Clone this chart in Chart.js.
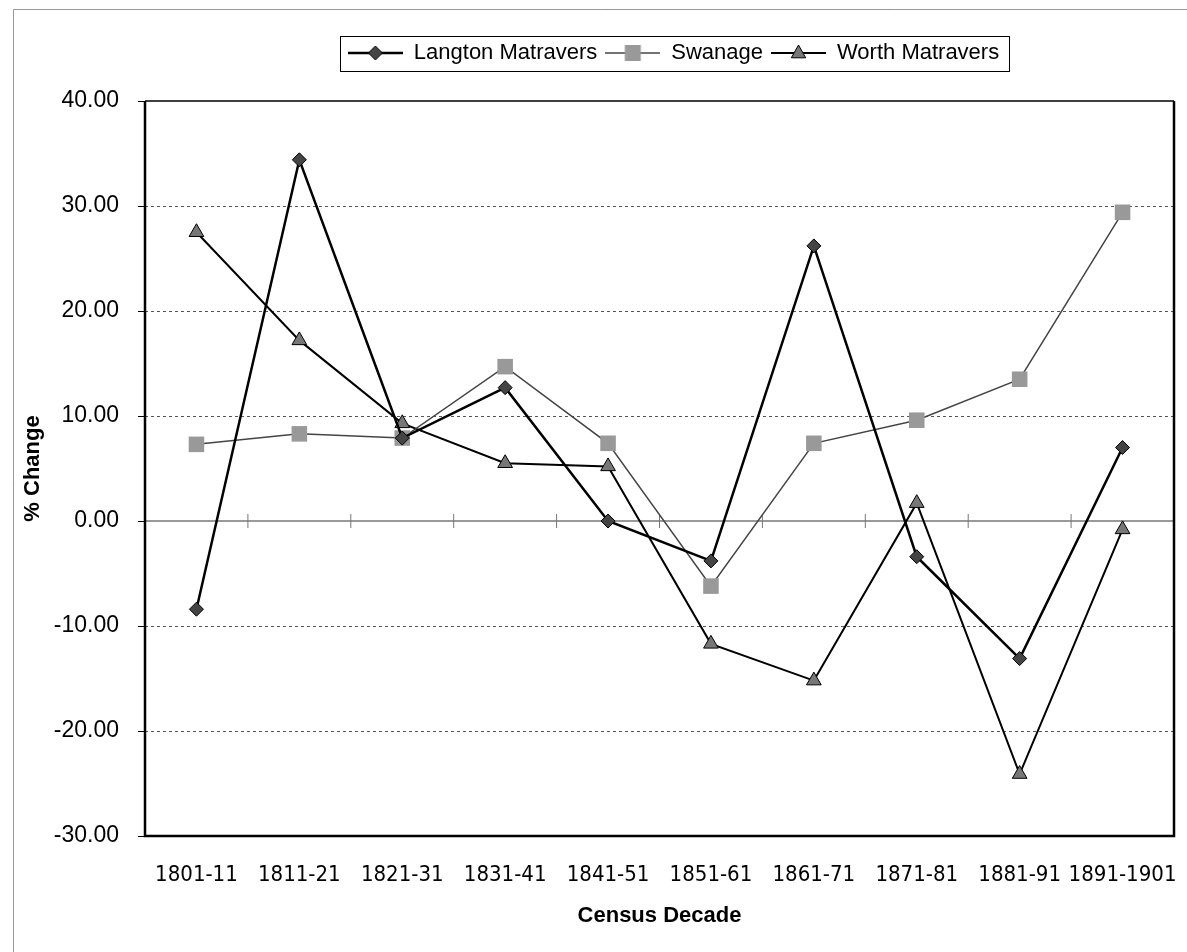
<!DOCTYPE html>
<html>
<head>
<meta charset="utf-8">
<script src="https://cdn.jsdelivr.net/npm/chart.js@4.4.1/dist/chart.umd.min.js"></script>
<style>
  html, body { margin: 0; padding: 0; background: #fff; }
  #wrap { width: 1187px; height: 952px; position: relative; }
</style>
</head>
<body>
<div id="wrap"><canvas id="chart"></canvas></div>
<script>
// census decades and % change per parish
const decades = ["1801-11", "1811-21", "1821-31", "1831-41", "1841-51",
                 "1851-61", "1861-71", "1871-81", "1881-91", "1891-1901"];
const langton = [-8.4, 34.4, 7.9, 12.7, 0.0, -3.8, 26.2, -3.4, -13.1, 7.0];
const swanage = [7.3, 8.3, 7.9, 14.7, 7.4, -6.2, 7.4, 9.6, 13.5, 29.4];
const worth = [27.5, 17.2, 9.3, 5.5, 5.2, -11.7, -15.2, 1.7, -24.1, -0.8];
const yTicks = [-30, -20, -10, 0, 10, 20, 30, 40];

const FONT = "'Liberation Sans', Arial, sans-serif";
const NARROW = "'Liberation Sans Narrow', 'DejaVu Sans Condensed', 'Liberation Sans', sans-serif";

function markerPath(ctx, style, x, y, r) {
    ctx.beginPath();
    if (style === "diamond") {
        ctx.moveTo(x, y - r); ctx.lineTo(x + r, y); ctx.lineTo(x, y + r); ctx.lineTo(x - r, y);
    } else if (style === "square") {
        ctx.rect(x - r, y - r, 2 * r, 2 * r);
    } else {
        ctx.moveTo(x, y - r); ctx.lineTo(x + r * 0.9, y + r * 0.6); ctx.lineTo(x - r * 0.9, y + r * 0.6);
    }
    ctx.closePath();
}

// little "line + marker" pictures for the legend
function swatch(lineColor, lineWidth, style, r, fill, border) {
    const c = document.createElement("canvas");
    c.width = 55; c.height = 20;
    const ctx = c.getContext("2d");
    ctx.strokeStyle = lineColor;
    ctx.lineWidth = lineWidth;
    ctx.beginPath(); ctx.moveTo(0, 10); ctx.lineTo(55, 10); ctx.stroke();
    markerPath(ctx, style, 27.5, 10, r);
    ctx.fillStyle = fill; ctx.fill();
    if (border) { ctx.strokeStyle = border; ctx.lineWidth = 1; ctx.stroke(); }
    return c;
}

const swatches = [
    swatch("#000", 2.5, "diamond", 7, "#444", "#000"),
    swatch("#444", 1.5, "square", 8, "#999", null),
    swatch("#000", 2, "triangle", 8, "#777", "#000"),
];

const legendSpace = {
    id: "legendSpace",
    beforeInit(chart) {
        const fit = chart.legend.fit;
        chart.legend.fit = function () { fit.call(this); this.height = 67; };
    },
    afterLayout(chart) {
        // legend sits a bit right of the plot centre
        chart.legend.left += 14;
        chart.legend.right += 14;
    }
};

const decorations = {
    id: "decorations",
    beforeDatasetsDraw(chart) {
        const { ctx, chartArea: a, scales: { x, y } } = chart;
        ctx.save();
        // zero line with category ticks
        const y0 = y.getPixelForValue(0);
        ctx.strokeStyle = "#777";
        ctx.lineWidth = 1.5;
        ctx.beginPath(); ctx.moveTo(a.left, y0); ctx.lineTo(a.right, y0); ctx.stroke();
        ctx.lineWidth = 1;
        ctx.beginPath();
        for (let i = 1; i < decades.length; i++) {
            const bx = (x.getPixelForValue(i - 1) + x.getPixelForValue(i)) / 2;
            ctx.moveTo(bx, y0 - 7); ctx.lineTo(bx, y0 + 7);
        }
        ctx.stroke();
        // plot frame
        ctx.strokeStyle = "#000";
        ctx.lineWidth = 1.5;
        ctx.beginPath(); ctx.moveTo(a.left, a.top); ctx.lineTo(a.right, a.top); ctx.stroke();
        ctx.lineWidth = 2.5;
        ctx.beginPath();
        ctx.moveTo(a.left, a.top); ctx.lineTo(a.left, a.bottom);
        ctx.lineTo(a.right, a.bottom); ctx.lineTo(a.right, a.top);
        ctx.stroke();
        ctx.restore();
    },
    afterDraw(chart) {
        const { ctx } = chart;
        ctx.save();
        // outer frame (only left and top edges show)
        ctx.strokeStyle = "#999";
        ctx.lineWidth = 1;
        ctx.beginPath();
        ctx.moveTo(13.5, chart.height); ctx.lineTo(13.5, 9.5); ctx.lineTo(chart.width, 9.5);
        ctx.stroke();
        // legend box
        const hb = chart.legend.legendHitBoxes;
        if (hb && hb.length) {
            const left = Math.min(...hb.map(b => b.left)) - 8;
            const right = Math.max(...hb.map(b => b.left + b.width)) + 10;
            const top = Math.min(...hb.map(b => b.top)) - 6;
            const bottom = Math.max(...hb.map(b => b.top + b.height)) + 7;
            ctx.strokeStyle = "#000";
            ctx.strokeRect(Math.round(left) + 0.5, Math.round(top) + 0.5, Math.round(right - left), Math.round(bottom - top));
        }
        ctx.restore();
    }
};

new Chart(document.getElementById("chart"), {
    type: "line",
    data: {
        labels: decades,
        datasets: [
            {
                label: "Langton Matravers",
                data: langton,
                borderColor: "#000",
                borderWidth: 2.5,
                pointStyle: "rectRot",
                pointRadius: 7,
                pointBackgroundColor: "#444",
                pointBorderColor: "#000",
                pointBorderWidth: 1,
            },
            {
                label: "Swanage",
                data: swanage,
                borderColor: "#444",
                borderWidth: 1.5,
                pointStyle: "rect",
                pointRadius: 11,
                pointBackgroundColor: "#999",
                pointBorderColor: "#999",
                pointBorderWidth: 0,
            },
            {
                label: "Worth Matravers",
                data: worth,
                borderColor: "#000",
                borderWidth: 2,
                pointStyle: "triangle",
                pointRadius: 8.5,
                pointBackgroundColor: "#777",
                pointBorderColor: "#000",
                pointBorderWidth: 1,
            },
        ],
    },
    options: {
        responsive: true,
        maintainAspectRatio: false,
        animation: false,
        layout: { padding: { top: 34, right: 13, bottom: 0, left: 0 } },
        scales: {
            x: {
                offset: true,
                grid: { display: false },
                border: { display: false },
                ticks: {
                    color: "#000",
                    font: { family: NARROW, size: 22 },
                    padding: 18,
                    autoSkip: false,
                    maxRotation: 0,
                },
                title: {
                    display: true,
                    text: "Census Decade",
                    color: "#000",
                    font: { family: FONT, size: 22, weight: "bold" },
                    padding: { top: 0, bottom: 23 },
                },
                afterFit(scale) {
                    scale.height = 116;
                    scale.paddingLeft = 0;
                    scale.paddingRight = 0;
                },
            },
            y: {
                min: yTicks[0],
                max: yTicks[yTicks.length - 1],
                ticks: {
                    stepSize: yTicks[1] - yTicks[0],
                    color: "#000",
                    font: { family: FONT, size: 23 },
                    padding: 19,
                    callback: (v) => Number(v).toFixed(2),
                },
                grid: {
                    color: (c) => {
                        const v = c.tick ? c.tick.value : null;
                        return v === 0 || v === yTicks[0] || v === yTicks[yTicks.length - 1] ? "rgba(0,0,0,0)" : "#555";
                    },
                    lineWidth: 1,
                    tickColor: "#000",
                    tickLength: 7,
                    tickBorderDash: [],
                },
                border: { display: false, dash: [3, 3] },
                title: {
                    display: true,
                    text: "% Change",
                    color: "#000",
                    font: { family: FONT, size: 22, weight: "bold" },
                    padding: { top: 20, bottom: 0 },
                },
                afterFit(scale) { scale.width = 145; },
            },
        },
        plugins: {
            legend: {
                position: "top",
                fullSize: false,
                labels: {
                    usePointStyle: true,
                    pointStyleWidth: 55,
                    padding: 8,
                    color: "#000",
                    font: { family: FONT, size: 22 },
                    generateLabels: (chart) => chart.data.datasets.map((ds, i) => ({
                        text: ds.label,
                        pointStyle: swatches[i],
                        fontColor: "#000",
                        datasetIndex: i,
                        hidden: false,
                        lineWidth: 0,
                    })),
                },
                onClick: () => {},
            },
            tooltip: { enabled: false },
        },
    },
    plugins: [legendSpace, decorations],
});
</script>
</body>
</html>
